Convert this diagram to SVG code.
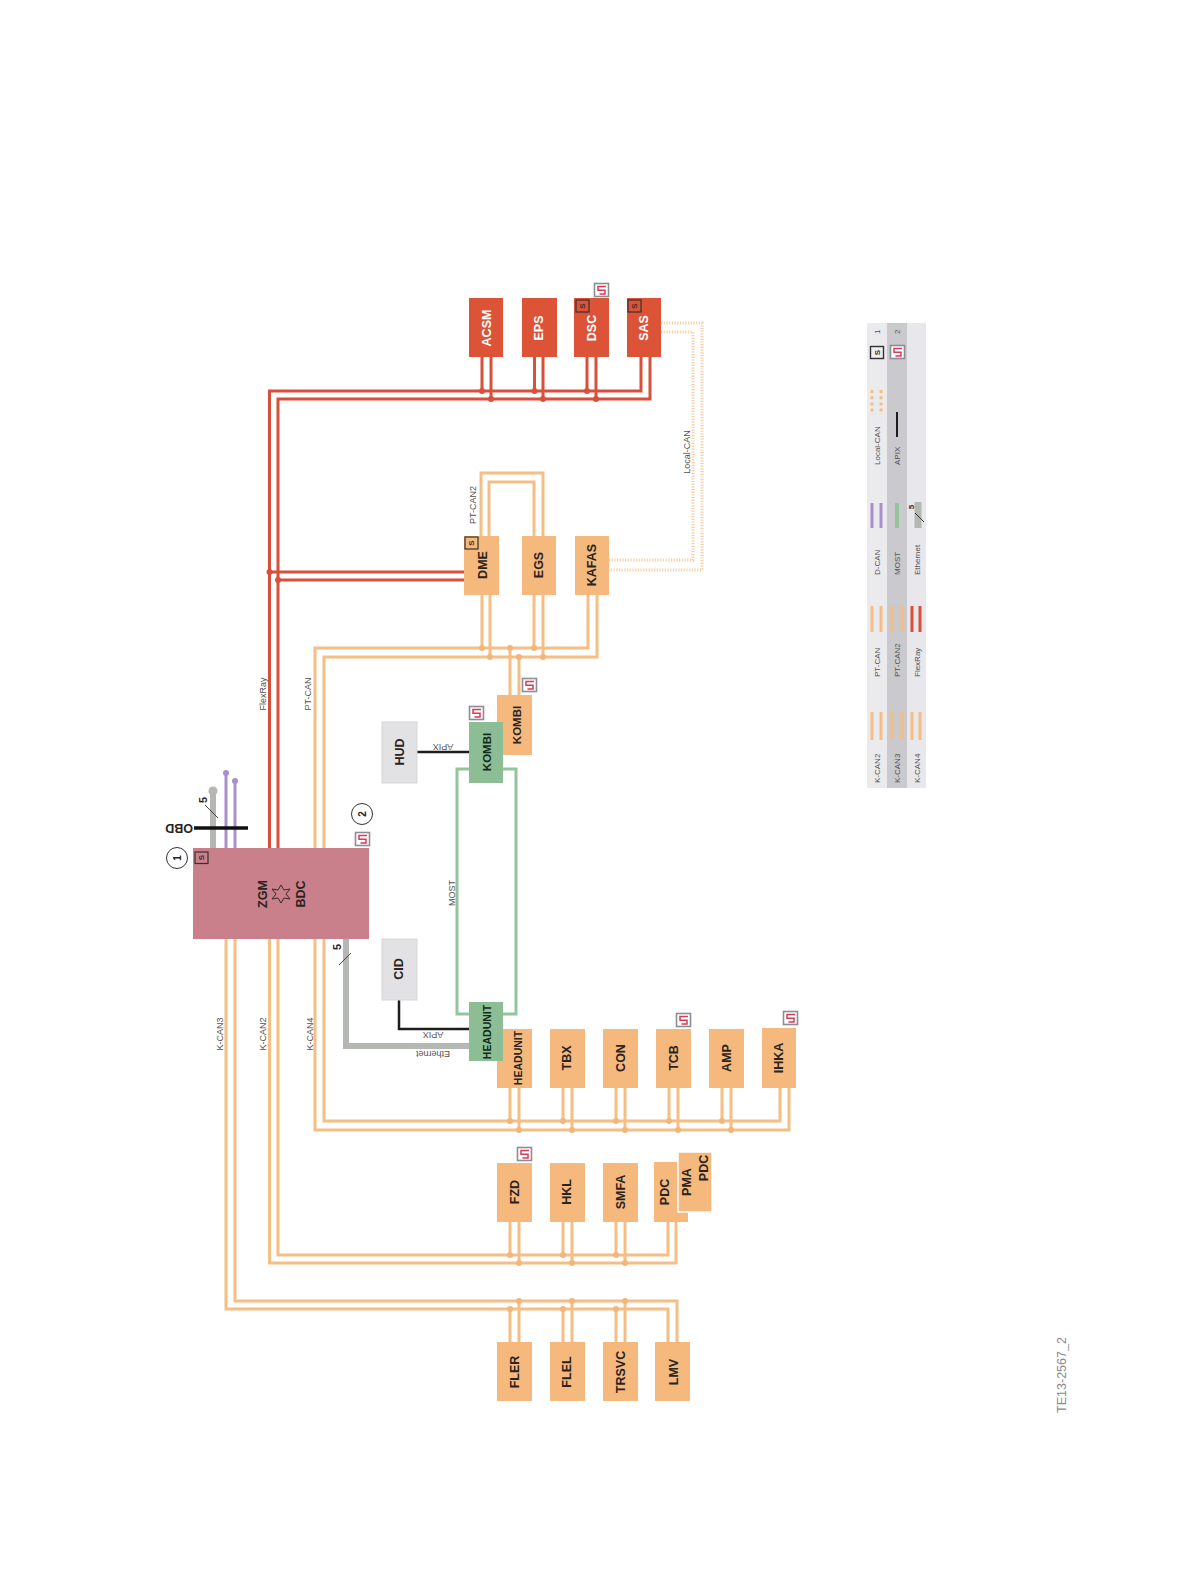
<svg xmlns="http://www.w3.org/2000/svg" width="1190" height="1584" viewBox="0 0 1190 1584">
<style>
text{font-family:"Liberation Sans",Arial,sans-serif}
.n{font-size:12.5px;font-weight:bold;fill:#2a2320;text-anchor:middle}
.w{fill:#fff}
.l{font-size:9px;fill:#55504e;text-anchor:middle}
.g{font-size:8px;fill:#55504e;text-anchor:start}
.o{fill:#f5b97e}
.r{fill:#dc5338}
.gr{fill:#8cbd95}
.h{fill:#e2e2e5;stroke:#d6d6d9}
.co,.cr,.cm,.cg,.cp,.ck,.cd{fill:none}
.co{stroke:#f6bd84;stroke-width:3}
.cr{stroke:#d9503a;stroke-width:3}
.cm{stroke:#93c49d;stroke-width:3}
.cg{stroke:#b5b7b2;stroke-width:6}
.cp{stroke:#a98fcf;stroke-width:3}
.ck{stroke:#1f1c1c;stroke-width:2.5}
.cd{stroke:#f8cfa4;stroke-width:3;stroke-dasharray:1.2 1.5}
.dr{fill:#d9503a}.do{fill:#f3b67a}
.sb{fill:none;stroke:#3a3030;stroke-width:1.2}
.st{font-size:8px;font-weight:bold;fill:#3a3030;text-anchor:middle}
</style>
<defs>
<g id="wake"><rect x="0.5" y="0.5" width="14" height="13" fill="#fff" stroke="#8d8d95" stroke-width="1.6"/><path d="M12 3.5H4V7.2H11V11H5.5" fill="none" stroke="#d83a55" stroke-width="1.5"/></g>
</defs>

<g id="legend">
<rect x="867" y="323" width="20" height="465" fill="#ebebee"/>
<rect x="887" y="323" width="20" height="465" fill="#c9c9ce"/>
<rect x="907" y="323" width="19" height="465" fill="#e8e8ec"/>
<g class="co"><path d="M872 712V740M881 712V740M892 712V740M902 712V740M912 712V740M920 712V740M872 606V632M881 606V632M892 606V632M902 606V632"/></g>
<path class="cr" d="M912 606V632M920 606V632"/>
<path class="cp" d="M872 503V528M881 503V528"/>
<path class="cm" style="stroke-width:4" d="M897 503V528"/>
<path d="M918 502V528" fill="none" stroke="#b5b7b2" stroke-width="7"/>
<path d="M915 513L924 522" stroke="#333" stroke-width="1" fill="none"/>
<text transform="translate(911 507) rotate(-90)" class="st" dy=".35em">5</text>
<path class="cd" style="stroke:#f6bd84;stroke-dasharray:3 3.2" d="M872 390V415M881 390V415"/>
<path class="ck" style="stroke-width:2" d="M897 412V437"/>
<g transform="translate(870 346)"><rect x=".5" y=".5" width="13" height="12" fill="#eee" stroke="#333" stroke-width="1.4"/><text transform="translate(7 6.5) rotate(-90)" class="st" dy=".35em">S</text></g>
<use href="#wake" x="890" y="345"/>
<text transform="translate(877 783) rotate(-90)" class="g" dy=".35em">K-CAN2</text>
<text transform="translate(897 783) rotate(-90)" class="g" dy=".35em">K-CAN3</text>
<text transform="translate(917 783) rotate(-90)" class="g" dy=".35em">K-CAN4</text>
<text transform="translate(877 677) rotate(-90)" class="g" dy=".35em">PT-CAN</text>
<text transform="translate(897 677) rotate(-90)" class="g" dy=".35em">PT-CAN2</text>
<text transform="translate(917 677) rotate(-90)" class="g" dy=".35em">FlexRay</text>
<text transform="translate(877 575) rotate(-90)" class="g" dy=".35em">D-CAN</text>
<text transform="translate(897 575) rotate(-90)" class="g" dy=".35em">MOST</text>
<text transform="translate(917 575) rotate(-90)" class="g" dy=".35em">Ethernet</text>
<text transform="translate(877 465) rotate(-90)" class="g" dy=".35em">Local-CAN</text>
<text transform="translate(897 465) rotate(-90)" class="g" dy=".35em">APIX</text>
<text transform="translate(877 334) rotate(-90)" class="g" dy=".35em">1</text>
<text transform="translate(897 334) rotate(-90)" class="g" dy=".35em">2</text>
</g>

<g id="connectors">
<path class="cr" d="M269.5 848V391H641V357M278 848V399H650V357M482 391V357M491 399V357M534.5 391V357M543 399V357M587 391V357M596 399V357M269.5 572H464M278 580H464"/>
<path class="co" d="M315 848V648H588V595M324 848V657H597V595M482 648V595M490 657V595M534 648V595M543 657V595M510 648V695M519 657V695"/>
<path class="co" d="M481 536V473H543V536M489 536V482H534V536"/>
<path class="cd" d="M661 323H702V570H609M661 332H693V560H609"/>
<path class="co" d="M226 939V1309H668V1342M235 939V1301H677V1342M510 1309V1342M519 1301V1342M563 1309V1342M572 1301V1342M616 1309V1342M625 1301V1342"/>
<path class="co" d="M269.5 939V1263H676V1222M278 939V1255H668V1222M510 1255V1222M519 1263V1222M563 1255V1222M572 1263V1222M616 1255V1222M625 1263V1222"/>
<path class="co" d="M315 939V1130H789V1088M324 939V1121H780V1088M510 1121V1088M519 1130V1088M563 1121V1088M572 1130V1088M616 1121V1088M625 1130V1088M669 1121V1088M678 1130V1088M722 1121V1088M731 1130V1088"/>
<path class="cm" d="M469 769H457V1014H469M503 769H516V1014H503"/>
<path class="cg" d="M346 939V1046H469"/>
<path class="ck" d="M399 1000V1029H469M417 752H469"/>
<path class="cg" d="M213 848V791"/>
<circle cx="213" cy="791" r="4.5" fill="#b5b7b2"/>
<path class="cp" d="M226 848V773M235 848V781"/>
<circle cx="226" cy="773" r="3" fill="#a98fcf"/><circle cx="235" cy="781" r="3" fill="#a98fcf"/>
<path d="M194 828H248" stroke="#111" stroke-width="3.5" fill="none"/>
<path d="M205 805L218 818M339 965L351 953" stroke="#444" stroke-width="1" fill="none"/>
<g class="dr"><circle cx="482" cy="391" r="3"/><circle cx="491" cy="399" r="3"/><circle cx="534.5" cy="391" r="3"/><circle cx="543" cy="399" r="3"/><circle cx="587" cy="391" r="3"/><circle cx="596" cy="399" r="3"/><circle cx="269.5" cy="572" r="3"/><circle cx="278" cy="580" r="3"/></g>
<g class="do"><circle cx="482" cy="648" r="3"/><circle cx="490" cy="657" r="3"/><circle cx="534" cy="648" r="3"/><circle cx="543" cy="657" r="3"/><circle cx="510" cy="648" r="3"/><circle cx="519" cy="657" r="3"/>
<circle cx="510" cy="1121" r="3"/><circle cx="519" cy="1130" r="3"/><circle cx="563" cy="1121" r="3"/><circle cx="572" cy="1130" r="3"/><circle cx="616" cy="1121" r="3"/><circle cx="625" cy="1130" r="3"/><circle cx="669" cy="1121" r="3"/><circle cx="678" cy="1130" r="3"/><circle cx="722" cy="1121" r="3"/><circle cx="731" cy="1130" r="3"/>
<circle cx="510" cy="1255" r="3"/><circle cx="519" cy="1263" r="3"/><circle cx="563" cy="1255" r="3"/><circle cx="572" cy="1263" r="3"/><circle cx="616" cy="1255" r="3"/><circle cx="625" cy="1263" r="3"/>
<circle cx="510" cy="1309" r="3"/><circle cx="519" cy="1301" r="3"/><circle cx="563" cy="1309" r="3"/><circle cx="572" cy="1301" r="3"/><circle cx="616" cy="1309" r="3"/><circle cx="625" cy="1301" r="3"/></g>
<text transform="translate(263 694) rotate(-90)" class="l" dy=".35em">FlexRay</text>
<text transform="translate(308 694) rotate(-90)" class="l" dy=".35em">PT-CAN</text>
<text transform="translate(220 1034) rotate(-90)" class="l" dy=".35em">K-CAN3</text>
<text transform="translate(263 1034) rotate(-90)" class="l" dy=".35em">K-CAN2</text>
<text transform="translate(310 1034) rotate(-90)" class="l" dy=".35em">K-CAN4</text>
<text transform="translate(473 505) rotate(-90)" class="l" dy=".35em">PT-CAN2</text>
<text transform="translate(687 452) rotate(-90)" class="l" dy=".35em">Local-CAN</text>
<text transform="translate(452 893) rotate(-90)" class="l" dy=".35em">MOST</text>
<text transform="translate(443 747) rotate(180)" class="l" dy=".35em">APIX</text>
<text transform="translate(433 1035) rotate(180)" class="l" dy=".35em">APIX</text>
<text transform="translate(433 1054) rotate(180)" class="l" dy=".35em">Ethernet</text>
<text transform="translate(203 800) rotate(-90)" class="n" dy=".35em" style="font-size:11px">5</text>
<text transform="translate(337 947) rotate(-90)" class="n" dy=".35em" style="font-size:11px">5</text>
</g>

<g id="OBD"><text transform="translate(179 828) rotate(180)" class="n" dy=".35em">OBD</text></g>
<g id="marker1"><circle cx="177" cy="858" r="10.5" fill="#fff" stroke="#333" stroke-width="1"/><text transform="translate(177 858) rotate(-90)" class="n" dy=".35em" style="font-size:10px">1</text></g>
<g id="marker2"><circle cx="362" cy="814" r="10.5" fill="#fff" stroke="#333" stroke-width="1"/><text transform="translate(362 814) rotate(-90)" class="n" dy=".35em" style="font-size:10px">2</text></g>

<g id="ZGM-BDC">
<rect x="193" y="848" width="176" height="91" fill="#c9808a"/>
<rect x="195" y="852" width="13" height="11.5" class="sb"/>
<text transform="translate(201.5 857.5) rotate(-90)" class="st" dy=".35em">S</text>
<text transform="translate(263 894) rotate(-90)" class="n" dy=".35em">ZGM</text>
<text transform="translate(301 894) rotate(-90)" class="n" dy=".35em">BDC</text>
<path d="M281 885L284 890L290 889L286 894L290 899L284 898L281 903L278 898L272 899L276 894L272 889L278 890Z" fill="none" stroke="#3a2a2a" stroke-width="1"/>
<use href="#wake" x="355" y="832"/>
</g>

<g id="HUD"><rect class="h" x="382" y="722" width="35" height="61"/><text transform="translate(400 752) rotate(-90)" class="n" dy=".35em">HUD</text></g>
<g id="CID"><rect class="h" x="382" y="939" width="35" height="61"/><text transform="translate(399 969) rotate(-90)" class="n" dy=".35em">CID</text></g>

<g id="KOMBI-orange"><rect class="o" x="497" y="695" width="35" height="60"/><text transform="translate(517 725) rotate(-90)" class="n" dy=".35em" style="font-size:11.5px">KOMBI</text><use href="#wake" x="522" y="678"/></g>
<g id="KOMBI-green"><rect class="gr" x="469" y="722" width="34" height="61"/><text transform="translate(487 752) rotate(-90)" class="n" dy=".35em" style="font-size:11.5px;fill:#122a1a">KOMBI</text><use href="#wake" x="469" y="706"/></g>
<g id="HEADUNIT-orange"><rect class="o" x="497" y="1029" width="35" height="59"/><text transform="translate(518 1058) rotate(-90)" class="n" dy=".35em" style="font-size:10.5px">HEADUNIT</text></g>
<g id="HEADUNIT-green"><rect class="gr" x="469" y="1002" width="34" height="59"/><text transform="translate(487 1032) rotate(-90)" class="n" dy=".35em" style="font-size:10.5px;fill:#122a1a">HEADUNIT</text></g>

<g id="ACSM"><rect class="r" x="469" y="298" width="34" height="59"/><text transform="translate(487 328) rotate(-90)" class="n w" dy=".35em">ACSM</text></g>
<g id="EPS"><rect class="r" x="522" y="298" width="35" height="59"/><text transform="translate(539 328) rotate(-90)" class="n w" dy=".35em">EPS</text></g>
<g id="DSC"><rect class="r" x="574" y="298" width="35" height="59"/><rect class="sb" x="576" y="300" width="13" height="12"/><text transform="translate(582.5 306) rotate(-90)" class="st" dy=".35em">S</text><text transform="translate(592 328) rotate(-90)" class="n w" dy=".35em">DSC</text><use href="#wake" x="594" y="283"/></g>
<g id="SAS"><rect class="r" x="627" y="298" width="34" height="59"/><rect class="sb" x="628" y="300" width="13" height="12"/><text transform="translate(634.5 306) rotate(-90)" class="st" dy=".35em">S</text><text transform="translate(644 328) rotate(-90)" class="n w" dy=".35em">SAS</text></g>
<g id="DME"><rect class="o" x="464" y="536" width="35" height="59"/><rect class="sb" x="465" y="537" width="13" height="12"/><text transform="translate(471.5 543) rotate(-90)" class="st" dy=".35em">S</text><text transform="translate(483 565) rotate(-90)" class="n" dy=".35em">DME</text></g>
<g id="EGS"><rect class="o" x="522" y="536" width="34" height="59"/><text transform="translate(539 565) rotate(-90)" class="n" dy=".35em">EGS</text></g>
<g id="KAFAS"><rect class="o" x="575" y="536" width="34" height="59"/><text transform="translate(592 565) rotate(-90)" class="n" dy=".35em">KAFAS</text></g>

<g id="TBX"><rect class="o" x="550" y="1029" width="35" height="59"/><text transform="translate(567 1058) rotate(-90)" class="n" dy=".35em">TBX</text></g>
<g id="CON"><rect class="o" x="603" y="1029" width="35" height="59"/><text transform="translate(621 1058) rotate(-90)" class="n" dy=".35em">CON</text></g>
<g id="TCB"><rect class="o" x="656" y="1029" width="35" height="59"/><text transform="translate(674 1058) rotate(-90)" class="n" dy=".35em">TCB</text><use href="#wake" x="676" y="1013"/></g>
<g id="AMP"><rect class="o" x="709" y="1029" width="35" height="59"/><text transform="translate(727 1058) rotate(-90)" class="n" dy=".35em">AMP</text></g>
<g id="IHKA"><rect class="o" x="762" y="1028" width="34" height="60"/><text transform="translate(779 1058) rotate(-90)" class="n" dy=".35em">IHKA</text><use href="#wake" x="783" y="1011"/></g>

<g id="FZD"><rect class="o" x="497" y="1163" width="35" height="59"/><text transform="translate(515 1192) rotate(-90)" class="n" dy=".35em">FZD</text><use href="#wake" x="517" y="1147"/></g>
<g id="HKL"><rect class="o" x="550" y="1163" width="35" height="59"/><text transform="translate(567 1192) rotate(-90)" class="n" dy=".35em">HKL</text></g>
<g id="SMFA"><rect class="o" x="603" y="1163" width="35" height="59"/><text transform="translate(621 1192) rotate(-90)" class="n" dy=".35em">SMFA</text></g>
<g id="PDC"><rect class="o" x="654" y="1162" width="34" height="60"/><text transform="translate(665 1192) rotate(-90)" class="n" dy=".35em">PDC</text></g>
<g id="PMA-PDC"><rect class="o" x="678" y="1152" width="34" height="60" stroke="#fff" stroke-width="1.5"/><text transform="translate(687 1182) rotate(-90)" class="n" dy=".35em">PMA</text><text transform="translate(704 1168) rotate(-90)" class="n" dy=".35em">PDC</text></g>

<g id="FLER"><rect class="o" x="497" y="1342" width="35" height="59"/><text transform="translate(515 1372) rotate(-90)" class="n" dy=".35em">FLER</text></g>
<g id="FLEL"><rect class="o" x="550" y="1342" width="35" height="59"/><text transform="translate(567 1372) rotate(-90)" class="n" dy=".35em">FLEL</text></g>
<g id="TRSVC"><rect class="o" x="603" y="1342" width="35" height="59"/><text transform="translate(621 1372) rotate(-90)" class="n" dy=".35em">TRSVC</text></g>
<g id="LMV"><rect class="o" x="655" y="1342" width="35" height="59"/><text transform="translate(674 1372) rotate(-90)" class="n" dy=".35em">LMV</text></g>

<text transform="translate(1062 1375) rotate(-90)" dy=".35em" text-anchor="middle" font-size="12.5" fill="#8a8a8a">TE13-2567_2</text>
</svg>
